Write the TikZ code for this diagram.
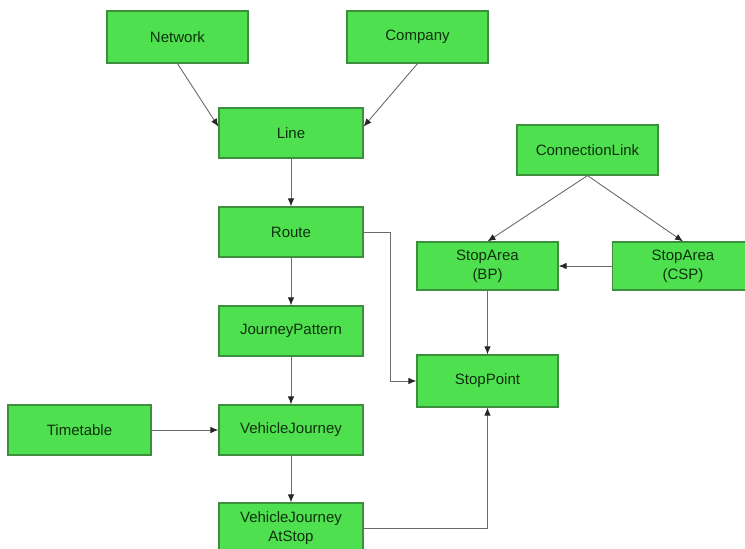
\documentclass[tikz,border=0pt]{standalone}
\usepackage{fontspec}
\setmainfont{Liberation Sans}
\usetikzlibrary{arrows.meta,calc}
\definecolor{boxfill}{HTML}{4FE04F}
\definecolor{boxdraw}{HTML}{3C8F3C}
\definecolor{boxtext}{HTML}{0E300E}
\definecolor{linkcol}{HTML}{6A6A6A}
\tikzset{
  entity/.style={draw=boxdraw, line width=1.2pt, fill=boxfill, text=boxtext,
    minimum width=141pt, minimum height=50pt, inner sep=0pt, align=center,
    font=\fontsize{15}{19}\selectfont},
  link/.style={draw=linkcol, line width=0.9pt,
    -{Latex[length=8pt,width=6.5pt,fill=black!85,color=black!85]}}
}
\begin{document}
\begin{tikzpicture}[x=1pt,y=-1pt]
\useasboundingbox (0,0) rectangle (745,549);
\begin{scope}
\clip (0,0) rectangle (745,549);
\node[entity, minimum height=52pt] (network) at (177.5,37) {Network};
\node[entity, minimum height=52pt] (company) at (417.5,37) {Company};
\node[entity, minimum width=144pt] (line) at (291,133) {Line};
\node[entity, minimum width=144pt] (route) at (291,232) {Route};
\node[entity, minimum width=144pt] (jp) at (291,331) {JourneyPattern};
\node[entity, minimum width=144pt] (vj) at (291,430) {VehicleJourney};
\node[entity, minimum width=143pt] (tt) at (79.5,430) {Timetable};
\node[entity, minimum width=144pt] (vjas) at (291,528) {VehicleJourney\\AtStop};
\node[entity] (cl) at (587.5,150) {ConnectionLink};
\node[entity, minimum height=48pt] (bp) at (487.5,266) {StopArea\\(BP)};
\node[entity, minimum height=48pt] (csp) at (683,266) {StopArea\\(CSP)};
\node[entity, minimum height=52pt] (sp) at (487.5,381) {StopPoint};

\draw[link] (network.south) -- (line.175);
\draw[link] (company.south) -- (line.5);
\draw[link] (line) -- (route);
\draw[link] (route) -- (jp);
\draw[link] (jp) -- (vj);
\draw[link] (vj) -- (vjas);
\draw[link] (tt) -- (vj);
\draw[link] (route.east) -- ++(27,0) |- (sp.west);
\draw[link] (vjas.east) -| (sp.south);
\draw[link] (cl.south) -- (bp.north);
\draw[link] (cl.south) -- (csp.north);
\draw[link] (csp.west) -- (bp.east);
\draw[link] (bp) -- (sp);
\end{scope}
\end{tikzpicture}
\end{document}
